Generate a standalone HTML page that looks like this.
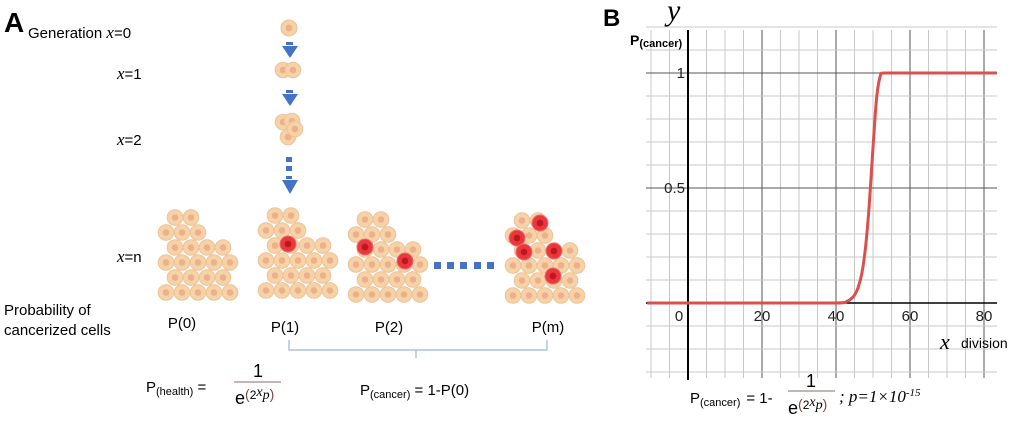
<!DOCTYPE html>
<html><head><meta charset="utf-8">
<style>
body{margin:0;background:#fff;width:1020px;height:423px;overflow:hidden;font-family:"Liberation Sans",sans-serif}
svg text{font-family:"Liberation Sans",sans-serif}
.it{font-family:"Liberation Serif",serif;font-style:italic}
</style></head>
<body>
<svg id="fig" width="1020" height="423" viewBox="0 0 1020 423" xmlns="http://www.w3.org/2000/svg">
<g id="panelA">
  <text x="4" y="32" font-size="28" font-weight="bold">A</text>
  <text x="28" y="38" font-size="15">Generation <tspan class="it" font-size="17">x</tspan>=0</text>
  <text x="117" y="79" font-size="15"><tspan class="it" font-size="17">x</tspan>=1</text>
  <text x="117" y="145" font-size="15"><tspan class="it" font-size="17">x</tspan>=2</text>
  <text x="117" y="262" font-size="15"><tspan class="it" font-size="17">x</tspan>=n</text>
  <g id="cellsTop"></g>
  <g id="arrows" fill="#4472c4">
    <rect x="286" y="42" width="7" height="3"/><polygon points="282,46 298,46 290,58"/>
    <rect x="286" y="90" width="7" height="3"/><polygon points="282,94 298,94 290,106"/>
    <rect x="286" y="157" width="6" height="5"/><rect x="286" y="166" width="6" height="5"/>
    <rect x="286" y="176" width="6" height="3"/><polygon points="282,180 298,180 290,194"/>
  </g>
  <g id="clusters"></g>
  <g fill="#4472c4">
    <rect x="434" y="262" width="7" height="7"/><rect x="447" y="262" width="7" height="7"/><rect x="460" y="262" width="7" height="7"/><rect x="474" y="262" width="7" height="7"/><rect x="487" y="262" width="7" height="7"/>
  </g>
  <text x="4" y="315" font-size="15">Probability of</text>
  <text x="4" y="335" font-size="15">cancerized cells</text>
  <g font-size="15" text-anchor="middle">
    <text x="182" y="328">P(0)</text>
    <text x="285" y="332">P(1)</text>
    <text x="389" y="332">P(2)</text>
    <text x="548" y="332">P(m)</text>
  </g>
  <path d="M289,340 V350 H416 V358 M416,350 H547 V340" fill="none" stroke="#9db5dc" stroke-width="1.2"/>
  <g>
    <text x="146" y="392" font-size="15">P<tspan font-size="11" dy="3">(health)</tspan><tspan dy="-3"> =</tspan></text>
    <text x="258" y="377" font-size="18" text-anchor="middle" font-family="Liberation Serif">1</text>
    <line x1="234" y1="382" x2="281" y2="382" stroke="#8a6a6a" stroke-width="1"/>
    <text x="235" y="404" font-size="18" font-family="Liberation Serif">e<tspan font-size="14" dy="-5" fill="#7a4a4a">(</tspan><tspan font-size="12">2</tspan><tspan class="it" font-size="14" dy="-3">x</tspan><tspan class="it" font-size="14" dy="3">p</tspan><tspan font-size="14" fill="#7a4a4a">)</tspan></text>
  </g>
  <text x="360" y="395" font-size="15">P<tspan font-size="11" dy="3">(cancer)</tspan><tspan dy="-3"> = 1-P(0)</tspan></text>
</g>
<g id="panelB">
  <text x="603" y="26" font-size="24" font-weight="bold">B</text>
  <text x="667" y="20" font-size="30" class="it">y</text>
  <g id="grid"></g>
  <g id="axes"></g>
  <text x="630" y="45" font-size="14" font-weight="bold">P<tspan font-size="11" dy="2">(cancer)</tspan></text>
  <g id="ticks" font-size="15" fill="#222"></g>
  <path id="curve" fill="none" stroke="#d9504d" stroke-width="3"/>
  <text x="940" y="349" font-size="22" class="it">x</text>
  <text x="961" y="348" font-size="14" font-family="Liberation Serif">division</text>
  <g>
    <text x="690" y="403" font-size="15">P<tspan font-size="11" dy="3">(cancer)</tspan><tspan dy="-3" dx="6">= 1-</tspan></text>
    <text x="811" y="387" font-size="18" text-anchor="middle" font-family="Liberation Serif">1</text>
    <line x1="788" y1="391" x2="835" y2="391" stroke="#8a6a6a" stroke-width="1"/>
    <text x="788" y="414" font-size="18" font-family="Liberation Serif">e<tspan font-size="14" dy="-5" fill="#7a4a4a">(</tspan><tspan font-size="12">2</tspan><tspan class="it" font-size="14" dy="-3">x</tspan><tspan class="it" font-size="14" dy="3">p</tspan><tspan font-size="14" fill="#7a4a4a">)</tspan></text>
    <text x="839" y="402" font-size="17" class="it">;  p=1×10<tspan font-size="11" dy="-6">-15</tspan></text>
  </g>
</g>
</svg>
<script>
// Chart data
const xValues = [-11, 0, 20, 40, 43, 44, 45, 46, 47, 48, 49, 50, 51, 52, 53, 60, 83.5];
const yValues = [0, 0, 0, 0, 0.008, 0.017, 0.034, 0.068, 0.13, 0.245, 0.43, 0.676, 0.895, 0.989, 1, 1, 1];
const xTickLabels = ["0", "20", "40", "60", "80"];
const xTickValues = [0, 20, 40, 60, 80];
const yTickLabels = ["0.5", "1"];
const yTickValues = [0.5, 1];

const NS = "http://www.w3.org/2000/svg";
function mk(tag, attrs, parent){const e=document.createElementNS(NS,tag);for(const k in attrs)e.setAttribute(k,attrs[k]);parent.appendChild(e);return e;}
const X = v => 688 + v * 3.7;
const Y = v => 303 - v * 230;

// grid
const grid = document.getElementById('grid');
for (let v = -10; v <= 80; v += 5) {
  const major = v % 20 === 0;
  const l = mk('line', {x1:X(v), x2:X(v), y1:30, y2:378, stroke: major ? '#555' : '#c8c8c8', 'stroke-width':1}, grid);
  
  
}
for (let i = -3; i <= 12; i++) {
  const v = i / 10;
  const major = i === 5 || i === 10 || i === 0;
  const l = mk('line', {x1:646, x2:997, y1:Y(v), y2:Y(v), stroke: major ? '#555' : '#c8c8c8', 'stroke-width':1}, grid);
  
  
}
const axes = document.getElementById('axes');
const ya = mk('line', {x1:X(0), x2:X(0), y1:30, y2:380, stroke:'#000', 'stroke-width':2}, axes);


const xa = mk('line', {x1:646, x2:997, y1:Y(0), y2:Y(0), stroke:'#000', 'stroke-width':1.5}, axes);



const ticks = document.getElementById('ticks');
xTickValues.forEach((v, i) => {
  const t = mk('text', {x: v === 0 ? X(v) - 9 : X(v), y: 321, 'text-anchor':'middle'}, ticks);
  t.textContent = xTickLabels[i];
  
  
});
yTickValues.forEach((v, i) => {
  const t = mk('text', {x: X(0) - 3, y: Y(v) + 5, 'text-anchor':'end'}, ticks);
  t.textContent = yTickLabels[i];
  
  
});

// curve (smooth through points)
const pts = xValues.map((x, i) => [X(x), Y(yValues[i])]);
let d = 'M' + pts[0][0] + ',' + pts[0][1];
for (let i = 0; i < pts.length - 1; i++) {
  const p0 = pts[Math.max(0, i - 1)], p1 = pts[i], p2 = pts[i + 1], p3 = pts[Math.min(pts.length - 1, i + 2)];
  const c1x = p1[0] + (p2[0] - p0[0]) / 6, c1y = p1[1] + (p2[1] - p0[1]) / 6;
  const c2x = p2[0] - (p3[0] - p1[0]) / 6, c2y = p2[1] - (p3[1] - p1[1]) / 6;
  d += ` C${c1x},${Math.min(Y(0),Math.max(Y(1),c1y))} ${c2x},${Math.min(Y(0),Math.max(Y(1),c2y))} ${p2[0]},${p2[1]}`;
}
document.getElementById('curve').setAttribute('d', d);

// cells
function cell(parent, cx, cy, red, r) {
  r = r || 7.8;
  const g = mk('g', {}, parent);
  
  
  mk('circle', {cx, cy, r, fill: red ? '#e8383d' : '#f6d2a8', stroke: red ? '#f06a6a' : '#efc296', 'stroke-width':1}, g);
  mk('circle', {cx, cy, r: r * 0.42, fill: red ? '#c0171f' : '#eeb089'}, g);
}
const cellsTopG = document.getElementById('cellsTop');
cell(cellsTopG, 289, 28, false, 8);
cell(cellsTopG, 283, 70, false); cell(cellsTopG, 293, 70, false);
cell(cellsTopG, 283, 122, false); cell(cellsTopG, 292, 121, false); cell(cellsTopG, 288, 137, false); cell(cellsTopG, 295, 129, false);

const rowsShape = [[17,33],[8,24,40],[17,33,49,65],[8,24,40,56,72],[17,33,49,65],[8,24,40,56,72]];
const clustersG = document.getElementById('clusters');
function cluster(L, T, reds) {
  const g = mk('g', {}, clustersG);
  
  
  rowsShape.forEach((row, ri) => row.forEach(cx => cell(g, L + cx, T + 7.5 + ri * 15, false)));
  reds.forEach(p => cell(g, p[0], p[1], true, 8));
}
cluster(158, 210, []);
cluster(258, 208, [[288, 244]]);
cluster(348, 212, [[365, 247], [405, 261]]);
cluster(505, 213, [[540, 223], [517, 238], [524, 252], [554, 251], [553, 276]]);
</script>
</body></html>
